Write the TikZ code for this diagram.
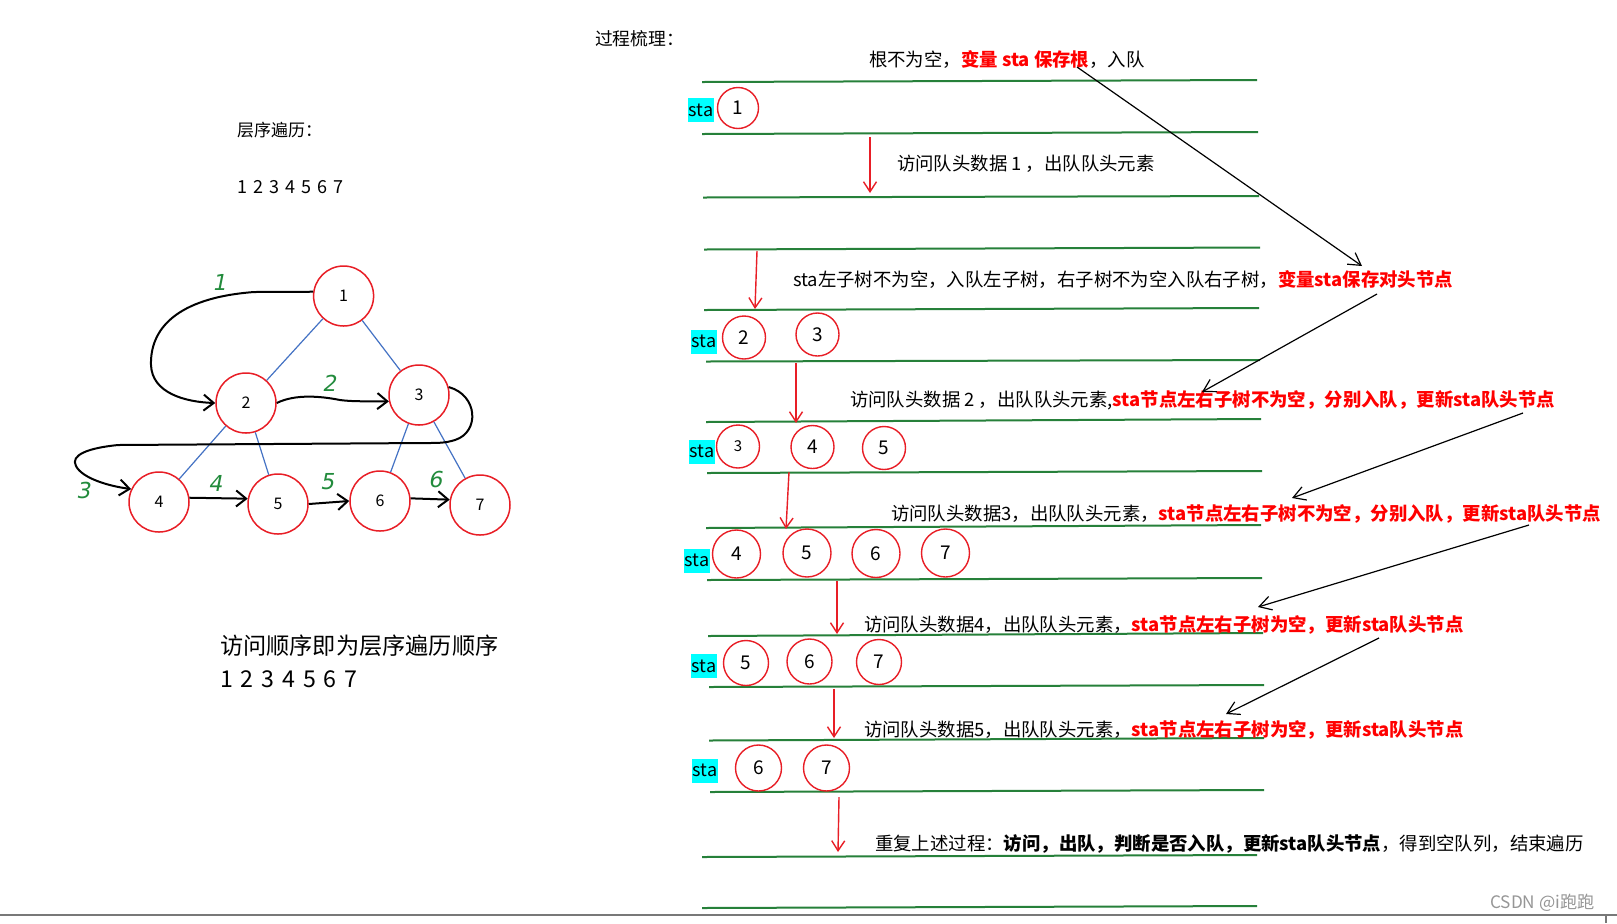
\documentclass[tikz,border=0pt]{standalone}
\usepackage{fontspec}
\setmainfont{Noto Sans CJK SC}
\newfontfamily\handfont{DejaVu Sans}[FakeSlant=0.2]
\usepackage{xcolor}
\usepackage{tikz}
\usetikzlibrary{arrows.meta}
\definecolor{ringred}{RGB}{232,30,38}
\definecolor{hotred}{RGB}{255,0,0}
\definecolor{laneg}{RGB}{38,128,58}
\definecolor{penbl}{RGB}{68,114,196}
\definecolor{inkg}{RGB}{34,139,60}
\definecolor{markcyan}{RGB}{0,255,255}
\newcommand{\redbf}[1]{\textcolor{hotred}{\bfseries #1}}
\newcommand{\digitrow}{\spaceskip=.34em\relax 1 2 3 4 5 6 7}

\begin{document}
\begin{tikzpicture}[x=.5pt,y=-.5pt,
  txt/.style={inner sep=0pt,outer sep=0pt,anchor=base west,font=\fontsize{9.2}{11}\selectfont},
  tnode/.style={circle,draw=ringred,fill=white,line width=.75pt,minimum size=30pt,inner sep=0pt,font=\fontsize{8}{9}\selectfont},
  qnode/.style={circle,draw=ringred,line width=.7pt,minimum size=21.5pt,inner sep=0pt,font=\fontsize{9.5}{11}\selectfont},
  stabox/.style={fill=markcyan,inner sep=0pt,minimum width=13pt,minimum height=12pt,font=\fontsize{9}{10}\selectfont},
  lane/.style={draw=laneg,line width=1pt},
  treeedge/.style={draw=penbl,line width=.6pt},
  hand/.style={draw=black,line width=1pt,-{Straight Barb[length=5pt,width=8pt]}},
  ink/.style={text=inkg,inner sep=0pt,font=\handfont\fontsize{11}{12}\selectfont},
  downarr/.style={draw=ringred,line width=.7pt,-{Straight Barb[length=5pt,width=6.5pt]}},
  diagarr/.style={draw=black,line width=.6pt,-{Straight Barb[length=6pt,width=7pt]}}]
\path[use as bounding box] (0,0) rectangle (1617,923);
\path[fill=white,draw=none] (0,0) rectangle (1617,923);

% left: the tree
\node[txt,font=\fontsize{8.5}{10}\selectfont] (lvl) at (237,136) {层序遍历：};
\node[txt,font=\fontsize{9}{10}\selectfont] (seq) at (237,193) {\digitrow};
\node[tnode] (tn1) at (343.6,296) {1};
\node[tnode] (tn2) at (246,403) {2};
\node[tnode] (tn3) at (419,395) {3};
\node[tnode] (tn4) at (159,502) {4};
\node[tnode] (tn5) at (278,504) {5};
\node[tnode] (tn6) at (380,501) {6};
\node[tnode] (tn7) at (480,505) {7};
\draw[treeedge] (tn1) -- (tn2);
\draw[treeedge] (tn1) -- (tn3);
\draw[treeedge] (tn2) -- (tn4);
\draw[treeedge] (tn2) -- (tn5);
\draw[treeedge] (tn3) -- (tn6);
\draw[treeedge] (tn3) -- (tn7);
\draw[hand] (tn1.172) -- (254,292) .. controls (175,298) and (150,330) .. (151,365) .. controls (152,393) and (185,402) .. (tn2.west);
\draw[hand] (tn2.east) .. controls (295,394) and (320,396) .. (340,400) .. controls (355,402) and (375,401) .. (tn3.192);
\draw[hand] (tn3.15) .. controls (478,395) and (480,432) .. (455,440) .. controls (445,443) and (440,443) .. (425,443) -- (118,445) .. controls (88,448) and (70,455) .. (76,466) .. controls (82,478) and (108,486) .. (tn4.155);
\draw[hand] (tn4.8) -- (tn5.170);
\draw[hand] (tn5.east) -- (tn6.west);
\draw[hand] (tn6.5) -- (tn7.170);
\node[ink] (g1) at (219,282) {1};
\node[ink] (g2) at (329,383) {2};
\node[ink] (g3) at (83,490) {3};
\node[ink] (g4) at (215,483) {4};
\node[ink] (g5) at (327,482) {5};
\node[ink] (g6) at (435,479) {6};
\node[txt,font=\fontsize{11.6}{14}\selectfont] (sum) at (220,654) {访问顺序即为层序遍历顺序};
\node[txt,font=\fontsize{11.6}{14}\selectfont] (sumseq) at (220,687) {\digitrow};

% right: the queue, step by step
\node[txt,font=\fontsize{8.9}{10}\selectfont] (hd) at (595,45) {过程梳理：};
\draw[lane] (702,82) -- (1257,80);
\draw[lane] (702,134) -- (1258,132);
\draw[lane] (703,197.5) -- (1259,196);
\draw[lane] (704,249.5) -- (1260,247.5);
\draw[lane] (704,310) -- (1259,308);
\draw[lane] (706,361.5) -- (1260,360);
\draw[lane] (706,422) -- (1261,419);
\draw[lane] (707,473) -- (1262,471);
\draw[lane] (706,528) -- (1261,525);
\draw[lane] (707,580) -- (1262,578);
\draw[lane] (708,636) -- (1263,633);
\draw[lane] (709,687) -- (1264,685);
\draw[lane] (709,740.5) -- (1264,738);
\draw[lane] (710,792) -- (1264,790);
\draw[lane] (702,857) -- (1257,855);
\draw[lane] (702,908) -- (1257,906);

\node[txt] (s0) at (869,66) {根不为空，\redbf{变量 sta 保存根}，入队};
\node[txt] (s1) at (897,170) {访问队头数据 1 ，出队队头元素};
\node[txt] (s2) at (793,286) {sta左子树不为空，入队左子树，右子树不为空入队右子树，\redbf{变量sta保存对头节点}};
\node[txt] (s3) at (850,406) {访问队头数据 2 ，出队队头元素,\redbf{sta节点左右子树不为空，分别入队，更新sta队头节点}};
\node[txt] (s4) at (891,520) {访问队头数据3，出队队头元素，\redbf{sta节点左右子树不为空，分别入队，更新sta队头节点}};
\node[txt] (s5) at (864,631) {访问队头数据4，出队队头元素，\redbf{sta节点左右子树为空，更新sta队头节点}};
\node[txt] (s6) at (864,736) {访问队头数据5，出队队头元素，\redbf{sta节点左右子树为空，更新sta队头节点}};
\node[txt] (s7) at (875,850) {重复上述过程：{\bfseries 访问，出队，判断是否入队，更新sta队头节点}，得到空队列，结束遍历};

\node[stabox] (k1) at (701,110) {sta};
\node[qnode,minimum size=20.5pt] (q11) at (738,108) {1};
\node[stabox] (k2) at (704,341.5) {sta};
\node[qnode] (q21) at (744,337.5) {2};
\node[qnode] (q22) at (817.5,334.5) {3};
\node[stabox] (k3) at (702,451.5) {sta};
\node[qnode,font=\fontsize{7.5}{9}\selectfont] (q31) at (738,446.5) {3};
\node[qnode] (q32) at (812.5,447) {4};
\node[qnode] (q33) at (884,448) {5};
\node[stabox] (k4) at (697,560.5) {sta};
\node[qnode,minimum size=24pt] (q41) at (736.5,554) {4};
\node[qnode,minimum size=24pt] (q42) at (807,553) {5};
\node[qnode,minimum size=24pt] (q43) at (876,553.5) {6};
\node[qnode,minimum size=24pt] (q44) at (945.5,553) {7};
\node[stabox] (k5) at (704,666) {sta};
\node[qnode,minimum size=22.5pt] (q51) at (746,663) {5};
\node[qnode,minimum size=22.5pt] (q52) at (809.5,661.5) {6};
\node[qnode,minimum size=22.5pt] (q53) at (879,662) {7};
\node[stabox] (k6) at (705,770.5) {sta};
\node[qnode,minimum size=23pt] (q61) at (758.5,768) {6};
\node[qnode,minimum size=23pt] (q62) at (826.5,768) {7};

% red steps down
\coordinate (a1s) at (870,137);  \coordinate (a1e) at (870,193);
\coordinate (a2s) at (757,251);  \coordinate (a2e) at (755,309);
\coordinate (a3s) at (796,363);  \coordinate (a3e) at (796,423);
\coordinate (a4s) at (789,472);  \coordinate (a4e) at (786,529);
\coordinate (a5s) at (837,581);  \coordinate (a5e) at (837,634);
\coordinate (a6s) at (834,689);  \coordinate (a6e) at (834,738);
\coordinate (a7s) at (839,797);  \coordinate (a7e) at (838,852);
\draw[downarr] (a1s) -- (a1e);
\draw[downarr] (a2s) -- (a2e);
\draw[downarr] (a3s) -- (a3e);
\draw[downarr] (a4s) -- (a4e);
\draw[downarr] (a5s) -- (a5e);
\draw[downarr] (a6s) -- (a6e);
\draw[downarr] (a7s) -- (a7e);

% black pointers between the notes
\coordinate (d1s) at (1077,67);   \coordinate (d1e) at (1362,266);
\coordinate (d2s) at (1377,294);  \coordinate (d2e) at (1202,392);
\coordinate (d3s) at (1523,413);  \coordinate (d3e) at (1292,498);
\coordinate (d4s) at (1529,525);  \coordinate (d4e) at (1258,607);
\coordinate (d5s) at (1379,638);  \coordinate (d5e) at (1226,714);
\draw[diagarr] (d1s) -- (d1e);
\draw[diagarr] (d2s) -- (d2e);
\draw[diagarr] (d3s) -- (d3e);
\draw[diagarr] (d4s) -- (d4e);
\draw[diagarr] (d5s) -- (d5e);

% window edge and mark
\draw[draw={rgb,255:red,120;green,120;blue,120},line width=.6pt] (0,915) -- (1617,915);
\draw[draw={rgb,255:red,120;green,120;blue,120},line width=.6pt] (1606,915) -- (1606,923);
\node[inner sep=0pt,anchor=east,text={rgb,255:red,150;green,150;blue,150},font=\fontsize{8.6}{10}\selectfont] (mark) at (1595,903) {CSDN @i跑跑};
\end{tikzpicture}
\end{document}
